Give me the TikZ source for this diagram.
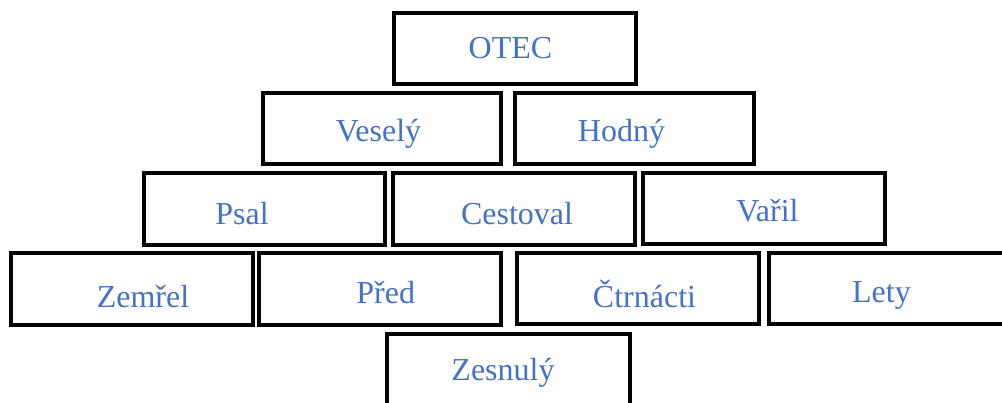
\documentclass[tikz,border=0pt]{standalone}
\usepackage{fontspec}
\setmainfont{Liberation Serif}
\definecolor{wordblue}{HTML}{4472C4}
\begin{document}
\begin{tikzpicture}[x=1pt,y=-1pt,
  brick/.style={draw=black,line width=4pt,fill=white,rectangle,inner sep=0pt,outer sep=0pt,minimum width=242pt,minimum height=71pt},
  word/.style={text=wordblue,anchor=base,inner sep=0pt,font=\fontsize{32}{38}\selectfont}]
\useasboundingbox (0,0) rectangle (1002,403);
\clip (0,0) rectangle (1002,403);
% boxes
\node[brick] (otec) at (515,48.5) {};
\node[brick,minimum width=238pt] (vesely) at (382,128.5) {};
\node[brick,minimum width=239pt] (hodny) at (634.5,128.5) {};
\node[brick,minimum width=241pt,minimum height=72pt] (psal) at (264.5,209) {};
\node[brick,minimum height=72pt] (cestoval) at (514,209) {};
\node[brick] (varil) at (764,208.5) {};
\node[brick,minimum height=72pt] (zemrel) at (132,289) {};
\node[brick,minimum height=72pt] (pred) at (380,289) {};
\node[brick] (ctrnacti) at (638,288.5) {};
\node[brick,minimum width=236pt] (lety) at (887,288.5) {};
\node[brick,minimum width=243pt,minimum height=76pt] (zesnuly) at (508.5,372) {};
% words
\node[word] (totec) at (510.5,59) {OTEC};
\node[word] (tvesely) at (378.5,142) {Veselý};
\node[word] (thodny) at (621.5,142) {Hodný};
\node[word] (tpsal) at (242,225) {Psal};
\node[word] (tcestoval) at (517,225) {Cestoval};
\node[word] (tvaril) at (767.5,222) {Vařil};
\node[word] (tzemrel) at (143,308) {Zemřel};
\node[word] (tpred) at (385.7,304) {Před};
\node[word] (tctrnacti) at (644.5,308) {Čtrnácti};
\node[word] (tlety) at (881.5,303) {Lety};
\node[word] (tzesnuly) at (503,381) {Zesnulý};
\end{tikzpicture}
\end{document}
